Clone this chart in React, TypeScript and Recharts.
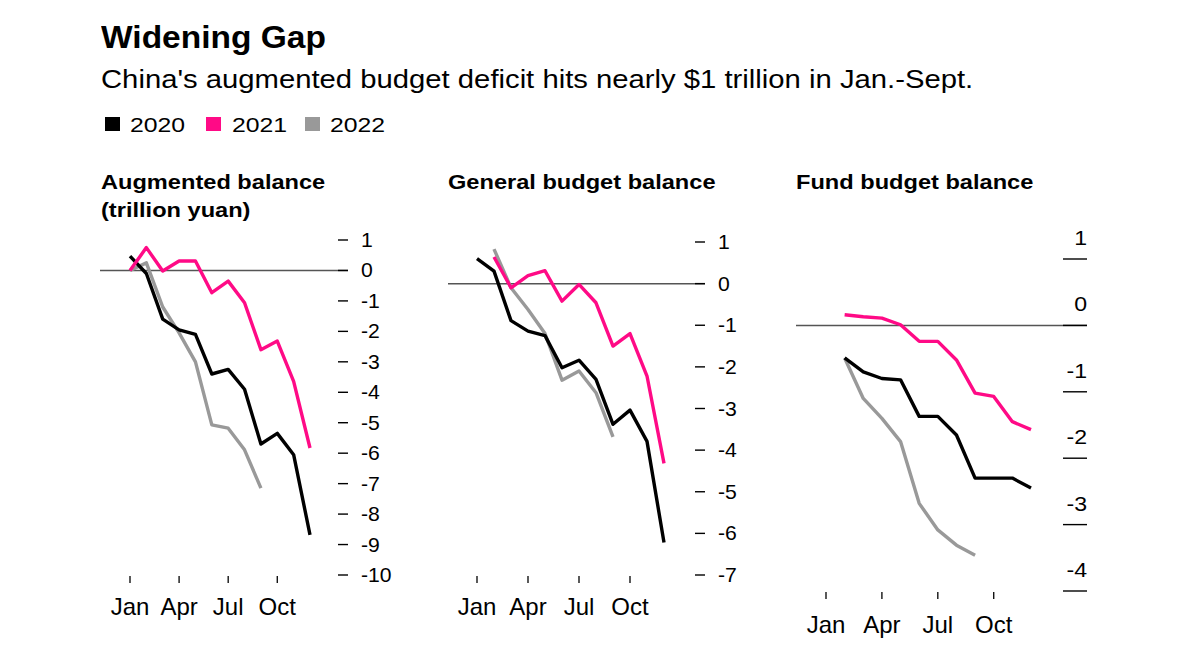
import React from 'react';
import { LineChart, Line, XAxis, YAxis, ReferenceLine } from 'recharts';

const monthIndex = [1, 2, 3, 4, 5, 6, 7, 8, 9, 10, 11, 12];
const tickMonths = [1, 4, 7, 10];
const tickLabels = ['Jan', 'Apr', 'Jul', 'Oct'];

// trillion yuan, cumulative Jan..Dec
const aug2020 = [0.47, -0.1, -1.6, -1.95, -2.1, -3.4, -3.25, -3.9, -5.7, -5.35, -6.05, -8.68];
const aug2021 = [0.0, 0.75, -0.02, 0.31, 0.31, -0.73, -0.35, -1.06, -2.6, -2.32, -3.64, -5.83];
const aug2022 = [0.0, 0.25, -1.2, -2.05, -3.0, -5.07, -5.18, -5.89, -7.15, null, null, null];

const gen2020 = [0.6, 0.3, -0.89, -1.14, -1.25, -2.02, -1.84, -2.3, -3.38, -3.04, -3.79, -6.22];
const gen2021 = [null, 0.64, -0.1, 0.19, 0.31, -0.42, -0.02, -0.46, -1.5, -1.2, -2.22, -4.32];
const gen2022 = [null, 0.83, -0.1, -0.62, -1.2, -2.32, -2.1, -2.62, -3.68, null, null, null];

const fund2020 = [null, -0.49, -0.7, -0.8, -0.82, -1.37, -1.37, -1.65, -2.3, -2.3, -2.3, -2.45];
const fund2021 = [null, 0.16, 0.13, 0.11, 0.01, -0.24, -0.24, -0.52, -1.02, -1.07, -1.45, -1.57];
const fund2022 = [null, -0.49, -1.1, -1.4, -1.75, -2.68, -3.08, -3.31, -3.46, null, null, null];

const augTicks = [1, 0, -1, -2, -3, -4, -5, -6, -7, -8, -9, -10];
const genTicks = [1, 0, -1, -2, -3, -4, -5, -6, -7];
const fundTicks = [1, 0, -1, -2, -3, -4];

const seriesNames = ['2020', '2021', '2022'];
const colors = { y2020: '#000000', y2021: '#ff0a86', y2022: '#999999' };

const rows = (a: (number | null)[], b: (number | null)[], c: (number | null)[]) =>
  monthIndex.map((m, i) => ({ m, y2020: a[i], y2021: b[i], y2022: c[i] }));

const XTick = (props: any) => {
  const { x, y, payload, labelDy = 40 } = props;
  const label = tickLabels[tickMonths.indexOf(payload.value)];
  return (
    <g>
      <line x1={x} x2={x} y1={y + 1} y2={y + 8} stroke="#000" strokeWidth={1.3} />
      <text x={x} y={y + labelDy} textAnchor="middle" fontSize={24} fill="#000">{label}</text>
    </g>
  );
};

const YTick = (props: any) => {
  const { x, y, payload } = props;
  return (
    <g>
      <line x1={x - 10} x2={x} y1={y} y2={y} stroke="#000" strokeWidth={1.4} />
      <text transform={`translate(${x + 13},${y}) scale(1.06,1)`} dy="0.35em" fontSize={20} fill="#000">
        {payload.value}
      </text>
    </g>
  );
};

const FundTick = (props: any) => {
  const { x, y, payload } = props;
  return (
    <g>
      <line x1={x - 24} x2={x} y1={y} y2={y} stroke="#000" strokeWidth={1.4} />
      <text transform={`translate(${x},${y - 14}) scale(1.1,1)`} textAnchor="end" fontSize={21} fill="#000">
        {payload.value}
      </text>
    </g>
  );
};

interface PanelProps {
  data: any[];
  left: number;
  plotTop: number;
  plotW: number;
  plotH: number;
  yDomain: [number, number];
  yTicks: number[];
  padL: number;
  padR: number;
  fund?: boolean;
}

function Panel({ data, left, plotTop, plotW, plotH, yDomain, yTicks, padL, padR, fund }: PanelProps) {
  const mL = 10, mT = 40, yW = 60, xH = 60;
  return (
    <div style={{ position: 'absolute', left: left - mL, top: plotTop - mT }}>
      <LineChart
        width={mL + plotW + yW}
        height={mT + plotH + xH}
        data={data}
        margin={{ top: mT, right: 0, bottom: 0, left: mL }}
      >
        <XAxis
          dataKey="m"
          type="number"
          domain={[1, 12]}
          ticks={tickMonths}
          interval={0}
          padding={{ left: padL, right: padR }}
          axisLine={false}
          tickLine={false}
          tickSize={0}
          tickMargin={0}
          height={xH}
          tick={<XTick labelDy={fund ? 42 : 40} />}
        />
        <YAxis
          orientation="right"
          type="number"
          domain={yDomain}
          ticks={yTicks}
          interval={0}
          width={yW}
          axisLine={false}
          tickLine={false}
          tickSize={0}
          tickMargin={0}
          tick={fund ? <FundTick /> : <YTick />}
        />
        <ReferenceLine y={0} stroke="#555" strokeWidth={1.5} />
        {(['y2022', 'y2020', 'y2021'] as const).map((k) => (
          <Line
            key={k}
            type="linear"
            dataKey={k}
            stroke={colors[k]}
            strokeWidth={3.4}
            strokeLinejoin="round"
            dot={false}
            activeDot={false}
            isAnimationActive={false}
          />
        ))}
      </LineChart>
    </div>
  );
}

const stretch = (k: number): React.CSSProperties => ({
  transform: `scaleX(${k})`,
  transformOrigin: 'left center',
  whiteSpace: 'nowrap',
  position: 'absolute',
});

const titleStyle: React.CSSProperties = {
  ...stretch(1.18),
  fontWeight: 700,
  fontSize: 20,
  lineHeight: '28px',
  color: '#000',
};

export default function App() {
  return (
    <div
      style={{
        position: 'absolute',
        left: 0,
        top: 0,
        width: 1200,
        height: 662,
        background: '#fff',
        fontFamily: '"Liberation Sans", Arial, sans-serif',
        overflow: 'hidden',
      }}
    >
      <div style={{ ...stretch(1.047), left: 101, top: 21, fontSize: 32, fontWeight: 700, lineHeight: '32px' }}>
        Widening Gap
      </div>
      <div style={{ ...stretch(1.17), left: 101, top: 67, fontSize: 25, lineHeight: '25px' }}>
        China's augmented budget deficit hits nearly $1 trillion in Jan.-Sept.
      </div>
      {seriesNames.map((s, i) => {
        const sq = [105, 206, 305][i];
        const tx = [130, 232, 330][i];
        const col = [colors.y2020, colors.y2021, colors.y2022][i];
        return (
          <React.Fragment key={s}>
            <div style={{ position: 'absolute', left: sq, top: 117, width: 15, height: 14, background: col }} />
            <div style={{ ...stretch(1.18), left: tx, top: 114, fontSize: 21, lineHeight: '21px' }}>{s}</div>
          </React.Fragment>
        );
      })}

      <div style={{ ...titleStyle, left: 101, top: 168 }}>
        Augmented balance
        <br />
        (trillion yuan)
      </div>
      <div style={{ ...titleStyle, left: 448, top: 168 }}>General budget balance</div>
      <div style={{ ...titleStyle, left: 796, top: 168 }}>Fund budget balance</div>

      <Panel data={rows(aug2020, aug2021, aug2022)} left={100} plotTop={240} plotW={248} plotH={335}
        yDomain={[-10, 1]} yTicks={augTicks} padL={30} padR={38} />
      <Panel data={rows(gen2020, gen2021, gen2022)} left={448} plotTop={242} plotW={257} plotH={333}
        yDomain={[-7, 1]} yTicks={genTicks} padL={29} padR={41} />
      <Panel data={rows(fund2020, fund2021, fund2022)} left={796} plotTop={259} plotW={291} plotH={332}
        yDomain={[-4, 1]} yTicks={fundTicks} padL={30} padR={56} fund />
    </div>
  );
}
